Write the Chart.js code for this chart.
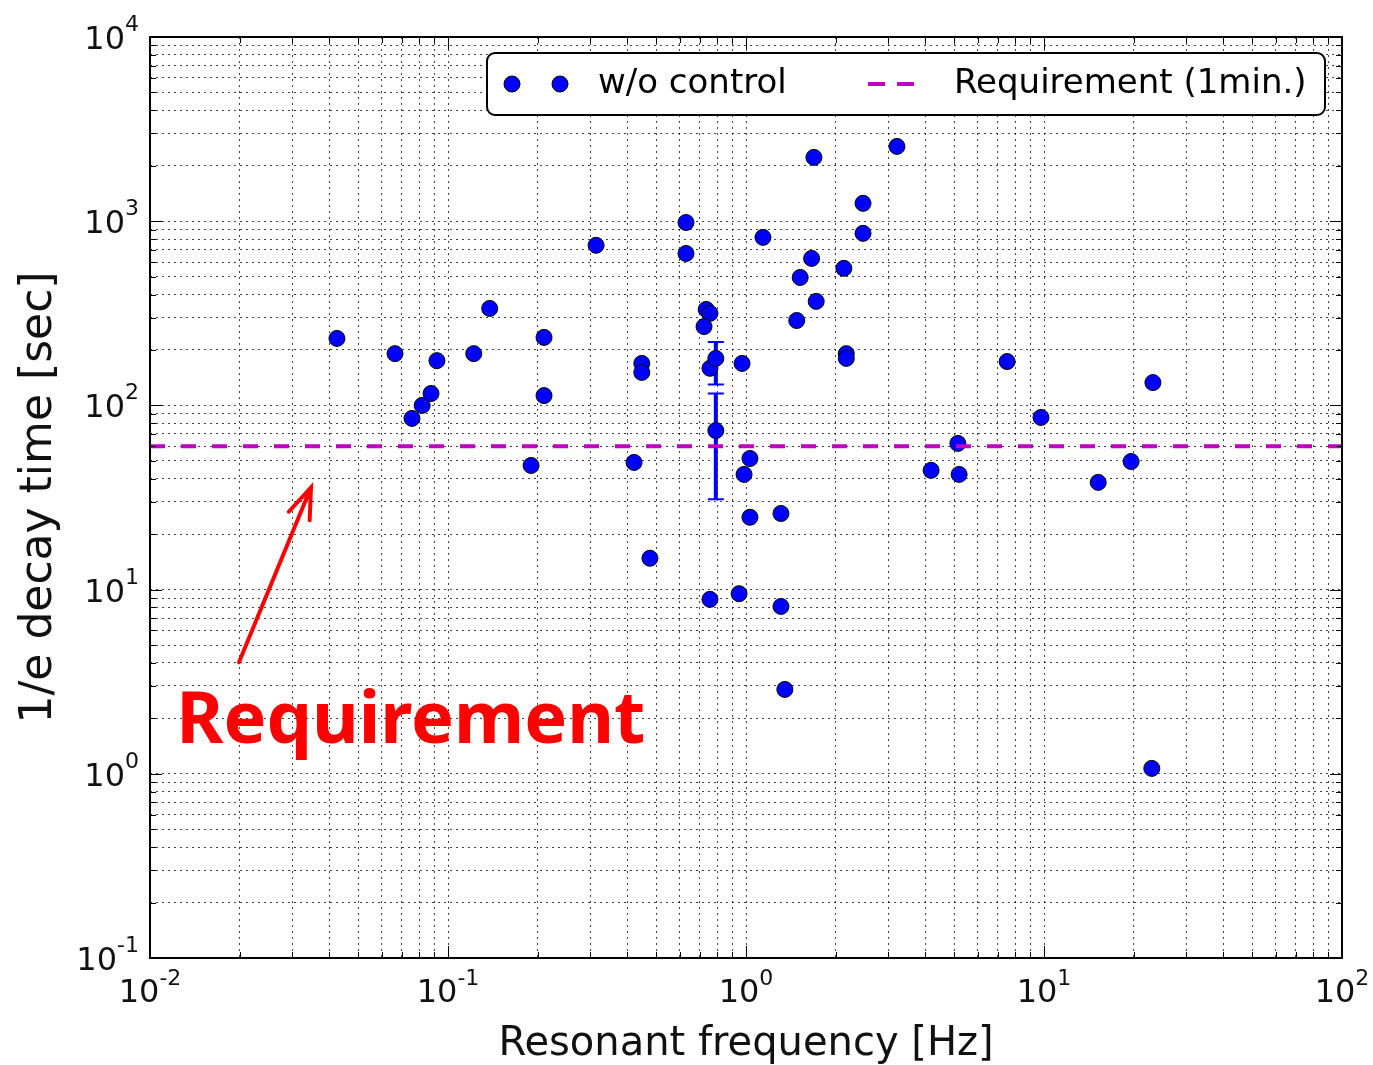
<!DOCTYPE html>
<html>
<head>
<meta charset="utf-8">
<title>Decay time vs resonant frequency</title>
<script src="https://cdn.jsdelivr.net/npm/chart.js@4.4.1/dist/chart.umd.min.js"></script>
<style>
  html, body { margin: 0; padding: 0; background: #fff; }
  canvas { display: block; }
</style>
</head>
<body>
<canvas id="decayChart" width="1373" height="1065"></canvas>
<script>
// Measured modes: resonant frequency [Hz] and 1/e decay time [sec]
const freqHz = [
  0.0424, 0.0664, 0.0757, 0.0819, 0.0877, 0.0918, 0.122, 0.138, 0.190, 0.210,
  0.210, 0.314, 0.421, 0.447, 0.447, 0.476, 0.629, 0.629, 0.735, 0.757,
  0.723, 0.757, 0.792, 0.792, 0.757, 0.948, 0.970, 1.031, 0.985, 1.031,
  1.31, 1.31, 1.35, 1.14, 1.69, 1.66, 1.52, 1.72, 1.48, 2.13,
  2.17, 2.17, 2.47, 2.47, 3.21, 4.18, 5.14, 5.19, 7.52, 9.77,
  15.2, 19.6, 23.2, 23.0
];
const decaySec = [
  231, 191, 85, 100, 116, 175, 191, 336, 47.2, 234,
  113, 740, 49, 169, 151, 14.8, 984, 668, 332, 316,
  268, 159, 180, 73, 8.85, 9.5, 169, 51.5, 42.2, 24.7,
  25.9, 8.1, 2.87, 817, 2220, 628, 495, 367, 289, 555,
  191, 180, 1250, 859, 2547, 44.4, 62.2, 42.2, 173, 86,
  38.2, 49.6, 133, 1.07
];

// Modes with an error range on the decay time
const errFreqHz = [0.792, 0.792];
const errLowSec = [130, 30.9];
const errHighSec = [221, 116];

const requirementSec = 60;
const seriesLabels = ['w/o control', 'Requirement (1min.)'];

// Decade ticks of both log axes
const xDecades = [0.01, 0.1, 1, 10, 100];
const yDecades = [0.1, 1, 10, 100, 1000, 10000];

// Annotation pointing at the requirement line (data coordinates)
const noteText = 'Requirement';
const noteTextAt = { x: 0.01225, y: 1.462 };
const noteArrowFrom = { x: 0.01989, y: 4.03 };
const noteArrowTo = { x: 0.0347, y: 35.9 };

const BLUE = '#0000ff';
const MAGENTA = '#bf00bf';
const TICK_FONT = '32px "DejaVu Sans"';
const EXP_FONT = '22px "DejaVu Sans"';

// 1..9 x 10^n ticks, majors on the decades
function logTicks(decades) {
  const ticks = [];
  decades.forEach((d, i) => {
    ticks.push({ value: d, major: true });
    if (i < decades.length - 1) {
      for (let k = 2; k <= 9; k++) ticks.push({ value: d * k, major: false });
    }
  });
  return ticks;
}

// Error bars with caps, drawn under the markers
const errorBars = {
  id: 'errorBars',
  beforeDatasetsDraw(chart) {
    const { ctx, scales: { x, y } } = chart;
    ctx.save();
    ctx.strokeStyle = BLUE;
    errFreqHz.forEach((f, i) => {
      const px = x.getPixelForValue(f);
      const top = y.getPixelForValue(errHighSec[i]);
      const bot = y.getPixelForValue(errLowSec[i]);
      ctx.lineWidth = 4;
      ctx.beginPath();
      ctx.moveTo(px, top); ctx.lineTo(px, bot);
      ctx.stroke();
      ctx.lineWidth = 2;
      ctx.beginPath();
      ctx.moveTo(px - 8, top); ctx.lineTo(px + 8, top);
      ctx.moveTo(px - 8, bot); ctx.lineTo(px + 8, bot);
      ctx.stroke();
    });
    ctx.restore();
  }
};

function roundRectPath(ctx, x0, y0, w, h, r) {
  ctx.beginPath();
  ctx.moveTo(x0 + r, y0);
  ctx.lineTo(x0 + w - r, y0);
  ctx.arcTo(x0 + w, y0, x0 + w, y0 + r, r);
  ctx.lineTo(x0 + w, y0 + h - r);
  ctx.arcTo(x0 + w, y0 + h, x0 + w - r, y0 + h, r);
  ctx.lineTo(x0 + r, y0 + h);
  ctx.arcTo(x0, y0 + h, x0, y0 + h - r, r);
  ctx.lineTo(x0, y0 + r);
  ctx.arcTo(x0, y0, x0 + r, y0, r);
  ctx.closePath();
}

// Annotation, legend box, inner ticks, frame and decade labels
const overlay = {
  id: 'overlay',
  afterDatasetsDraw(chart) {
    const { ctx, chartArea: a, scales: { x, y } } = chart;
    ctx.save();

    // red arrow + label
    const x0 = x.getPixelForValue(noteArrowFrom.x), y0 = y.getPixelForValue(noteArrowFrom.y);
    const x1 = x.getPixelForValue(noteArrowTo.x), y1 = y.getPixelForValue(noteArrowTo.y);
    ctx.strokeStyle = '#ff0000';
    ctx.lineWidth = 4;
    ctx.lineCap = 'round';
    ctx.beginPath();
    ctx.moveTo(x0, y0); ctx.lineTo(x1, y1);
    const ang = Math.atan2(y0 - y1, x0 - x1);
    const spread = 20 * Math.PI / 180, arm = 33;
    ctx.moveTo(x1 + arm * Math.cos(ang - spread), y1 + arm * Math.sin(ang - spread));
    ctx.lineTo(x1, y1);
    ctx.lineTo(x1 + arm * Math.cos(ang + spread), y1 + arm * Math.sin(ang + spread));
    ctx.stroke();
    ctx.fillStyle = '#ff0000';
    ctx.font = 'bold 72px "Noto Sans"';
    ctx.textBaseline = 'alphabetic';
    ctx.textAlign = 'left';
    ctx.fillText(noteText, x.getPixelForValue(noteTextAt.x), y.getPixelForValue(noteTextAt.y));

    // legend
    const lx = a.left + 337, ly = a.top + 16, lw = a.right - 17 - lx, lh = 62;
    const cy = ly + lh / 2;
    roundRectPath(ctx, lx, ly, lw, lh, 8);
    ctx.fillStyle = '#fff';
    ctx.fill();
    ctx.lineWidth = 2;
    ctx.strokeStyle = '#000';
    ctx.stroke();
    [lx + 25, lx + 73].forEach(mx => {
      ctx.beginPath();
      ctx.arc(mx, cy, 8, 0, Math.PI * 2);
      ctx.fillStyle = BLUE;
      ctx.fill();
      ctx.lineWidth = 1;
      ctx.strokeStyle = '#000';
      ctx.stroke();
    });
    ctx.font = '34px "DejaVu Sans"';
    ctx.fillStyle = '#000';
    ctx.textBaseline = 'middle';
    ctx.fillText(seriesLabels[0], lx + 111, cy);
    ctx.strokeStyle = MAGENTA;
    ctx.lineWidth = 4;
    ctx.lineCap = 'butt';
    ctx.setLineDash([17, 12]);
    ctx.beginPath();
    ctx.moveTo(lx + 381, cy); ctx.lineTo(lx + 431, cy);
    ctx.stroke();
    ctx.setLineDash([]);
    ctx.fillText(seriesLabels[1], lx + 467, cy);
    ctx.restore();
  },
  afterDraw(chart) {
    const { ctx, chartArea: a, scales: { x, y } } = chart;
    ctx.save();
    ctx.strokeStyle = '#000';
    ctx.lineWidth = 1;
    ctx.beginPath();
    x.ticks.forEach(t => {
      const px = Math.round(x.getPixelForValue(t.value)) + 0.5;
      const len = t.major ? 12 : 6;
      ctx.moveTo(px, a.bottom); ctx.lineTo(px, a.bottom - len);
      ctx.moveTo(px, a.top); ctx.lineTo(px, a.top + len);
    });
    y.ticks.forEach(t => {
      const py = Math.round(y.getPixelForValue(t.value)) + 0.5;
      const len = t.major ? 12 : 6;
      ctx.moveTo(a.left, py); ctx.lineTo(a.left + len, py);
      ctx.moveTo(a.right, py); ctx.lineTo(a.right - len, py);
    });
    ctx.stroke();
    ctx.lineWidth = 2;
    ctx.strokeRect(a.left, a.top, a.right - a.left, a.bottom - a.top);

    // decade labels 10^n
    ctx.fillStyle = '#111';
    ctx.textBaseline = 'alphabetic';
    ctx.textAlign = 'left';
    ctx.font = TICK_FONT;
    const wb = ctx.measureText('10').width;
    xDecades.forEach(v => {
      const e = String(Math.round(Math.log10(v)));
      ctx.font = EXP_FONT;
      const we = ctx.measureText(e).width;
      const left = x.getPixelForValue(v) - (wb + we) / 2;
      ctx.font = TICK_FONT;
      ctx.fillText('10', left, a.bottom + 44);
      ctx.font = EXP_FONT;
      ctx.fillText(e, left + wb, a.bottom + 27);
    });
    yDecades.forEach(v => {
      const e = String(Math.round(Math.log10(v)));
      ctx.font = EXP_FONT;
      const we = ctx.measureText(e).width;
      const py = y.getPixelForValue(v);
      const right = a.left - 11;
      ctx.fillText(e, right - we, py - 6);
      ctx.font = TICK_FONT;
      ctx.fillText('10', right - we - wb, py + 12);
    });
    ctx.restore();
  }
};

const gridOpts = {
  color: 'rgba(0,0,0,0.75)',
  lineWidth: 1,
  drawTicks: false,
  tickLength: 0
};

new Chart(document.getElementById('decayChart'), {
  type: 'scatter',
  data: {
    datasets: [
      {
        type: 'line',
        label: seriesLabels[1],
        data: [{ x: xDecades[0], y: requirementSec }, { x: xDecades[xDecades.length - 1], y: requirementSec }],
        borderColor: MAGENTA,
        borderWidth: 4,
        borderDash: [15, 16],
        pointRadius: 0,
        fill: false,
        order: 0
      },
      {
        label: seriesLabels[0],
        data: freqHz.map((f, i) => ({ x: f, y: decaySec[i] })),
        backgroundColor: BLUE,
        borderColor: '#000',
        borderWidth: 1,
        pointRadius: 8,
        pointHoverRadius: 8,
        order: 1
      }
    ]
  },
  options: {
    responsive: false,
    animation: false,
    layout: { padding: { top: 37, right: 31, left: 0, bottom: 0 } },
    plugins: { legend: { display: false }, tooltip: { enabled: false } },
    scales: {
      x: {
        type: 'logarithmic',
        min: xDecades[0],
        max: xDecades[xDecades.length - 1],
        afterBuildTicks: s => { s.ticks = logTicks(xDecades); },
        afterFit: s => { s.height = 107; },
        ticks: { display: false },
        grid: gridOpts,
        border: { display: false, dash: [2, 4] },
        title: {
          display: true,
          text: 'Resonant frequency [Hz]',
          color: '#111',
          font: { family: 'DejaVu Sans', size: 40, lineHeight: 1 },
          padding: { top: 0, bottom: 0 }
        }
      },
      y: {
        type: 'logarithmic',
        min: yDecades[0],
        max: yDecades[yDecades.length - 1],
        afterBuildTicks: s => { s.ticks = logTicks(yDecades); },
        afterFit: s => { s.width = 150; },
        ticks: { display: false },
        grid: gridOpts,
        border: { display: false, dash: [2, 4] },
        title: {
          display: true,
          text: '1/e decay time [sec]',
          color: '#111',
          font: { family: 'DejaVu Sans', size: 44, lineHeight: 1 },
          padding: { top: 18, bottom: 0 }
        }
      }
    }
  },
  plugins: [errorBars, overlay]
});
</script>
</body>
</html>
